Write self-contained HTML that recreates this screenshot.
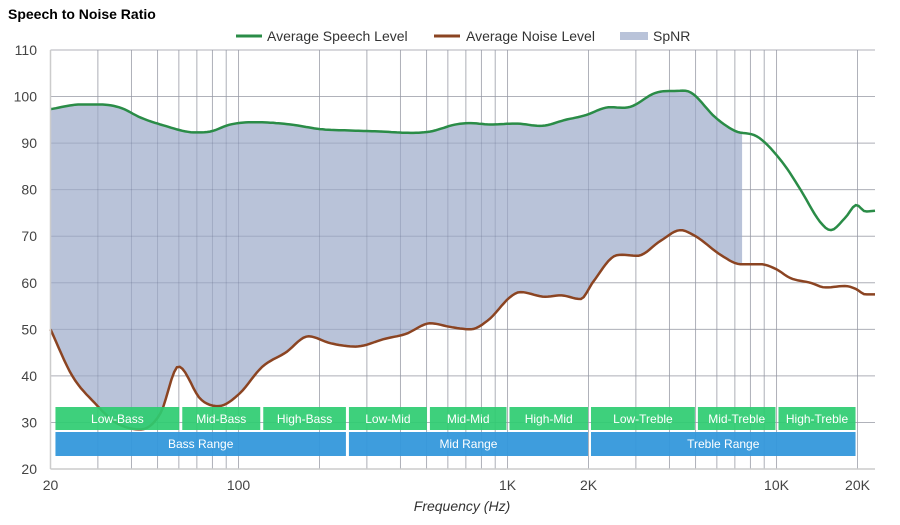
<!DOCTYPE html>
<html><head><meta charset="utf-8"><style>
body{margin:0;background:#fff;font-family:"Liberation Sans",sans-serif}
svg text{font-family:"Liberation Sans",sans-serif}
</style></head><body>
<svg id="c" width="900" height="520" viewBox="0 0 900 520">
<text x="8" y="19" font-size="14" font-weight="bold" fill="#000">Speech to Noise Ratio</text>
<g>
<g><line x1="236" y1="36" x2="262" y2="36" stroke="#2a8c47" stroke-width="3"/><text x="267" y="41" font-size="14" fill="#333">Average Speech Level</text></g>
<g><line x1="434" y1="36" x2="460" y2="36" stroke="#8b4422" stroke-width="3"/><text x="466" y="41" font-size="14" fill="#333">Average Noise Level</text></g>
<g><rect x="620" y="32" width="28" height="8" fill="#b9c3d9"/><text x="653" y="41" font-size="14" fill="#333">SpNR</text></g>
</g>
<g id="grid"></g>
<g id="fill"></g>
<g id="grid2"></g>
<g id="lines"></g>
<g id="bands"></g>
<g id="axes"></g>
<text x="462" y="511" font-size="14" font-style="italic" fill="#333" text-anchor="middle">Frequency (Hz)</text>
</svg>
<script>
const yTicks=[20,30,40,50,60,70,80,90,100,110];
const xTickVals=[20,100,1000,2000,10000,20000];
const xTickLabels=["20","100","1K","2K","10K","20K"];
const speechF=[20,25.9,30.7,36.4,43.2,51.3,69.2,78.7,93.3,115.7,156,201.8,261,337,436,517,641,728,865,1071,1327,1642,1950,2313,2866,3549,4210,4790,5930,7030,8350,9100,10790,12280,14560,15880,18030,19820,21430,23340];
const speechV=[97.3,98.3,98.3,97.6,95.5,94,92.3,92.5,94,94.5,94,93,92.7,92.5,92.2,92.5,94,94.3,94,94.2,93.7,95,96,97.6,97.8,100.8,101.2,100.9,95.5,92.6,91.6,90,85,80,73,71.3,74,76.7,75.3,75.5];
const noiseF=[20,24.1,29.4,34.9,43.2,51.3,59.8,72.3,84.2,100,122.8,149.5,182,220,272,352,418,517,614,728,849,1026,1117,1384,1574,1868,2070,2456,2675,3040,3705,4396,5000,6195,7350,8710,9910,11270,13370,15200,18030,19680,21430,23340];
const noiseV=[50,40,34,30,28.5,32,42,35,33.5,36,42,45,48.5,47,46.3,48,49,51.3,50.5,50,52,57,58,57,57.3,56.5,60,65.5,66,65.8,69,71.3,70,66,64,64,63,61,60,59,59.3,58.7,57.5,57.5];
const spnrEnd=7450;
const bandNames=["Low-Bass","Mid-Bass","High-Bass","Low-Mid","Mid-Mid","High-Mid","Low-Treble","Mid-Treble","High-Treble"];
const bandEdges=[20.6,61,122,254,508,1004,2017,5036,10040,19920];
const rangeNames=["Bass Range","Mid Range","Treble Range"];
const rangeEdges=[20.6,254,2017,19920];
const L=50.5,R=875,T=50,B=469;
const X=f=>L+(Math.log10(f)-Math.log10(20))*269;
const Y=v=>B-(v-20)*(B-T)/90;
const NS="http://www.w3.org/2000/svg";
function mk(t,a,p){const e=document.createElementNS(NS,t);for(const k in a)e.setAttribute(k,a[k]);p.appendChild(e);return e;}
function interp(F,V){const xs=F.map(f=>Math.log10(f)),n=xs.length,d=[],m=[];
for(let i=0;i<n-1;i++)d.push((V[i+1]-V[i])/(xs[i+1]-xs[i]));
m[0]=d[0];m[n-1]=d[n-2];for(let i=1;i<n-1;i++)m[i]=d[i-1]*d[i]<=0?0:(d[i-1]+d[i])/2;
return f=>{const x=Math.log10(f);let i=0;while(i<n-2&&x>xs[i+1])i++;const h=xs[i+1]-xs[i],t=Math.max(0,Math.min(1,(x-xs[i])/h));
const t2=t*t,t3=t2*t;return (2*t3-3*t2+1)*V[i]+(t3-2*t2+t)*h*m[i]+(-2*t3+3*t2)*V[i+1]+(t3-t2)*h*m[i+1];};}
const sp=interp(speechF,speechV),no=interp(noiseF,noiseV);
const fMax=20*Math.pow(10,(R-L)/269);
function samples(a,b){const out=[];const la=Math.log10(a),lb=Math.log10(b);for(let i=0;i<=300;i++)out.push(Math.pow(10,la+(lb-la)*i/300));return out;}
const grid=document.getElementById('grid'),grid2=document.getElementById('grid2');
const vf=[];for(const dec of [10,100,1000,10000])for(let k=1;k<10;k++){const f=k*dec;if(f>=20&&f<=fMax)vf.push(f);}
vf.forEach(f=>{const l=mk('line',{x1:X(f),x2:X(f),y1:T,y2:B,stroke:'#ccc','stroke-width':1},grid);
const l2=mk('line',{x1:X(f),x2:X(f),y1:T,y2:B,stroke:'rgba(90,100,130,0.25)','stroke-width':1},grid2);});
yTicks.forEach(v=>{const l=mk('line',{x1:L,x2:R,y1:Y(v),y2:Y(v),stroke:'#ccc','stroke-width':1},grid);
const l2=mk('line',{x1:L,x2:R,y1:Y(v),y2:Y(v),stroke:'rgba(90,100,130,0.25)','stroke-width':1},grid2);
const t=mk('text',{x:37,y:Y(v)+5,'font-size':14,fill:'#444','text-anchor':'end'},document.getElementById('axes'));t.textContent=v;});
const ss=samples(20,spnrEnd);
let d='M'+ss.map(f=>X(f).toFixed(1)+','+Y(sp(f)).toFixed(1)).join('L');
d+='L'+ss.slice().reverse().map(f=>X(f).toFixed(1)+','+Y(no(f)).toFixed(1)).join('L')+'Z';
const fp=mk('path',{d:d,fill:'#b9c3d9'},document.getElementById('fill'));
const all=samples(20,fMax),lines=document.getElementById('lines');
const np=mk('path',{d:'M'+all.map(f=>X(f).toFixed(1)+','+Y(no(f)).toFixed(1)).join('L'),fill:'none',stroke:'#8b4422','stroke-width':2.5},lines);
const spp=mk('path',{d:'M'+all.map(f=>X(f).toFixed(1)+','+Y(sp(f)).toFixed(1)).join('L'),fill:'none',stroke:'#2a8c47','stroke-width':2.5},lines);
const bands=document.getElementById('bands');
bandNames.forEach((n,i)=>{const x1=X(bandEdges[i])+1.5,x2=X(bandEdges[i+1])-1.5;const g=mk('g',{},bands);
mk('rect',{x:x1,y:407,width:x2-x1,height:23,fill:'rgba(46,204,113,0.92)'},g);const t=mk('text',{x:(x1+x2)/2,y:423,'font-size':12,fill:'#fff','text-anchor':'middle'},g);t.textContent=n;});
rangeNames.forEach((n,i)=>{const x1=X(rangeEdges[i])+1.5,x2=X(rangeEdges[i+1])-1.5;const g=mk('g',{},bands);
mk('rect',{x:x1,y:432,width:x2-x1,height:24,fill:'rgba(52,152,219,0.95)'},g);const t=mk('text',{x:(x1+x2)/2,y:448,'font-size':12,fill:'#fff','text-anchor':'middle'},g);t.textContent=n;});
const axes=document.getElementById('axes');
const xl=mk('line',{x1:L,x2:R,y1:B,y2:B,stroke:'#ccc','stroke-width':1.5},axes);
const yl=mk('line',{x1:L,x2:L,y1:T,y2:B,stroke:'#ccc','stroke-width':1.5},axes);
xTickVals.forEach((f,i)=>{const t=mk('text',{x:X(f),y:490,'font-size':14,fill:'#444','text-anchor':'middle'},axes);t.textContent=xTickLabels[i];});
</script>
</body></html>
